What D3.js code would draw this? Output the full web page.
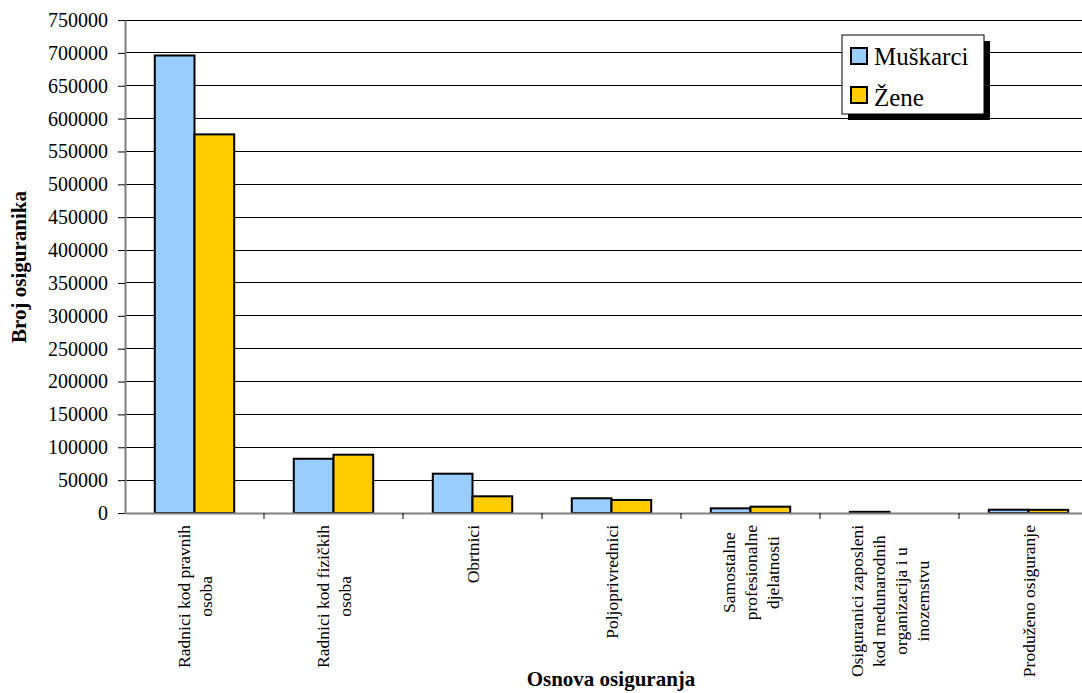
<!DOCTYPE html>
<html>
<head>
<meta charset="utf-8">
<script src="https://cdn.jsdelivr.net/npm/d3@7"></script>
<style>
  body { margin: 0; background: #fff; }
  svg { display: block; font-family: "Liberation Serif", "Times New Roman", serif; }
</style>
</head>
<body>
<div id="chart"></div>
<script>
// Data
const categories = [
  ["Radnici kod pravnih", "osoba"],
  ["Radnici kod fizičkih", "osoba"],
  ["Obrtnici"],
  ["Poljoprivrednici"],
  ["Samostalne", "profesionalne", "djelatnosti"],
  ["Osiguranici zaposleni", "kod medunarodnih", "organizacija i u", "inozemstvu"],
  ["Produženo osiguranje"]
];
const seriesNames = ["Muškarci", "Žene"];
const menValues = [696000, 82500, 59800, 22400, 7100, 1800, 5000];
const womenValues = [576000, 88700, 25400, 19800, 9600, 0, 4800];
const yTicks = d3.range(0, 750001, 50000);
const seriesColors = ["#99CCFF", "#FFCC00"];

const width = 1082, height = 693;
const plot = { left: 125, top: 20, bottom: 513, catWidth: 139 };

function drawChart() {
    const svg = d3.select("#chart")
        .html("")
        .append("svg")
        .attr("width", width)
        .attr("height", height);

    const catKeys = categories.map((c, i) => i);
    const xCat = d3.scaleBand()
        .domain(catKeys)
        .range([plot.left, plot.left + plot.catWidth * categories.length]);
    // Excel style gap width 150%
    const bw = xCat.bandwidth();
    const groupW = bw * 2 / 3.5;
    const xSeries = d3.scaleBand()
        .domain([0, 1])
        .range([(bw - groupW) / 2, (bw + groupW) / 2]);

    const y = d3.scaleLinear()
        .domain([0, 750000])
        .range([plot.bottom, plot.top]);

    // gridlines
    svg.append("g")
        .selectAll("line")
        .data(yTicks.slice(1))
        .enter()
        .append("line")
        .attr("x1", plot.left)
        .attr("x2", xCat.range()[1])
        .attr("y1", d => y(d))
        .attr("y2", d => y(d))
        .attr("stroke", "#000")
        .attr("stroke-width", 1)
        .attr("shape-rendering", "crispEdges");

    // bars
    const data = [menValues, womenValues];
    catKeys.forEach(ci => {
        data.forEach((vals, si) => {
            if (vals[ci] <= 0) return;
            svg.append("rect")
                .attr("x", xCat(ci) + xSeries(si))
                .attr("y", y(vals[ci]))
                .attr("width", xSeries.bandwidth())
                .attr("height", y(0) - y(vals[ci]))
                .attr("fill", seriesColors[si])
                .attr("stroke", "#000")
                .attr("stroke-width", 2);
        });
    });

    // y axis
    const yAxis = d3.axisLeft(y)
        .tickValues(yTicks)
        .tickFormat(d3.format("d"))
        .tickSize(7)
        .tickSizeOuter(0)
        .tickPadding(10);
    const yG = svg.append("g")
        .attr("transform", `translate(${plot.left},0)`)
        .call(yAxis);
    yG.select(".domain").attr("stroke", "#808080").attr("stroke-width", 2);
    yG.selectAll(".tick line").attr("stroke", "#000");
    yG.selectAll(".tick text")
        .attr("font-size", "20px")
        .attr("fill", "#000")
        .attr("font-family", "Liberation Serif");

    // x axis
    const xAxis = d3.axisBottom(xCat)
        .tickSize(0)
        .tickFormat("");
    const xG = svg.append("g")
        .attr("transform", `translate(0,${plot.bottom})`)
        .call(xAxis);
    xG.select(".domain").attr("stroke", "#808080").attr("stroke-width", 2);
    // boundary ticks between categories
    xG.selectAll(".cat-tick")
        .data(catKeys.slice(1))
        .enter()
        .append("line")
        .attr("x1", d => xCat(d))
        .attr("x2", d => xCat(d))
        .attr("y1", 0)
        .attr("y2", 6)
        .attr("stroke", "#000");

    // category labels, rotated, lines centred
    const lineGap = 22;
    catKeys.forEach(ci => {
        const lines = categories[ci];
        const cx = xCat(ci) + bw / 2;
        const g = svg.append("g");
        const texts = g.selectAll("text")
            .data(lines)
            .enter()
            .append("text")
            .attr("font-size", "17.5px")
            .attr("text-anchor", "middle")
            .attr("dominant-baseline", "central")
            .text(d => d);
        let maxLen = 0;
        texts.each(function() { maxLen = Math.max(maxLen, this.getComputedTextLength()); });
        const cy = 525 + maxLen / 2;
        texts.attr("transform", (d, i) =>
            `translate(${cx + (i - (lines.length - 1) / 2) * lineGap}, ${cy}) rotate(-90)`);
    });

    // axis titles
    svg.append("text")
        .attr("x", 611)
        .attr("y", 686)
        .attr("text-anchor", "middle")
        .attr("font-size", "21px")
        .attr("font-weight", "bold")
        .text("Osnova osiguranja");

    svg.append("text")
        .attr("transform", "translate(26, 267) rotate(-90)")
        .attr("text-anchor", "middle")
        .attr("font-size", "21px")
        .attr("font-weight", "bold")
        .text("Broj osiguranika");

    // legend with shadow
    const leg = svg.append("g").attr("transform", "translate(842,35)");
    leg.append("rect")
        .attr("x", 6).attr("y", 6)
        .attr("width", 142).attr("height", 79)
        .attr("fill", "#000");
    leg.append("rect")
        .attr("width", 142).attr("height", 79)
        .attr("fill", "#fff")
        .attr("stroke", "#000")
        .attr("stroke-width", 1);
    seriesNames.forEach((name, i) => {
        leg.append("rect")
            .attr("x", 9).attr("y", 13 + i * 39)
            .attr("width", 16).attr("height", 16)
            .attr("fill", seriesColors[i])
            .attr("stroke", "#000")
            .attr("stroke-width", 2);
        leg.append("text")
            .attr("x", 32).attr("y", 30 + i * 41)
            .attr("font-size", "25px")
            .text(name);
    });
}

drawChart();
</script>
</body>
</html>
